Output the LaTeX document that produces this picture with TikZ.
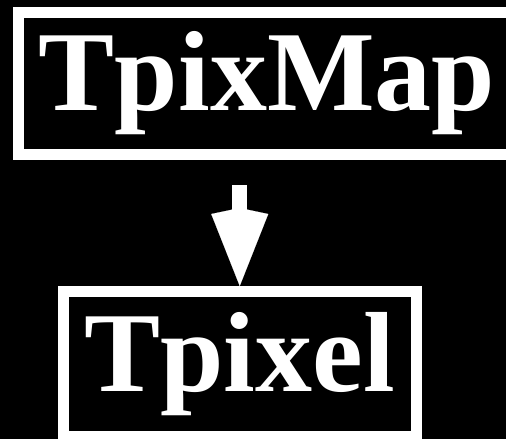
\documentclass[tikz,border=0pt]{standalone}
\usepackage{fontspec}
\setmainfont{Liberation Serif}
\usepackage{tikz}
\usetikzlibrary{arrows.meta,positioning,calc}
\definecolor{cInk}{HTML}{FFFFFF}
\definecolor{cBack}{HTML}{000000}

\begin{document}
\begin{tikzpicture}[x=1pt,y=-1pt,
  classbox/.style={draw=cInk,line width=11pt,text=cInk,inner sep=0pt,
    font=\fontsize{114}{124}\selectfont\bfseries},
  link/.style={cInk,line width=15pt,
    -{Kite[length=78pt,width=57pt,inset=6pt,line width=0.1pt]}}]
  \useasboundingbox[fill=cBack] (0,0) rectangle (506,439);
  \clip (0,0) rectangle (506,439);
  % class boxes, partly cut off at the page edge
  \node[classbox,minimum width=497pt,minimum height=142pt] (map) at (267,83.5) {TpixMap};
  \node[classbox,minimum width=352.5pt,minimum height=144.7pt] (pix) at (239.75,363.85) {Tpixel};
  \draw[link,shorten <=25pt] (pix.north |- map.south) -- (pix.north);
\end{tikzpicture}
\end{document}
